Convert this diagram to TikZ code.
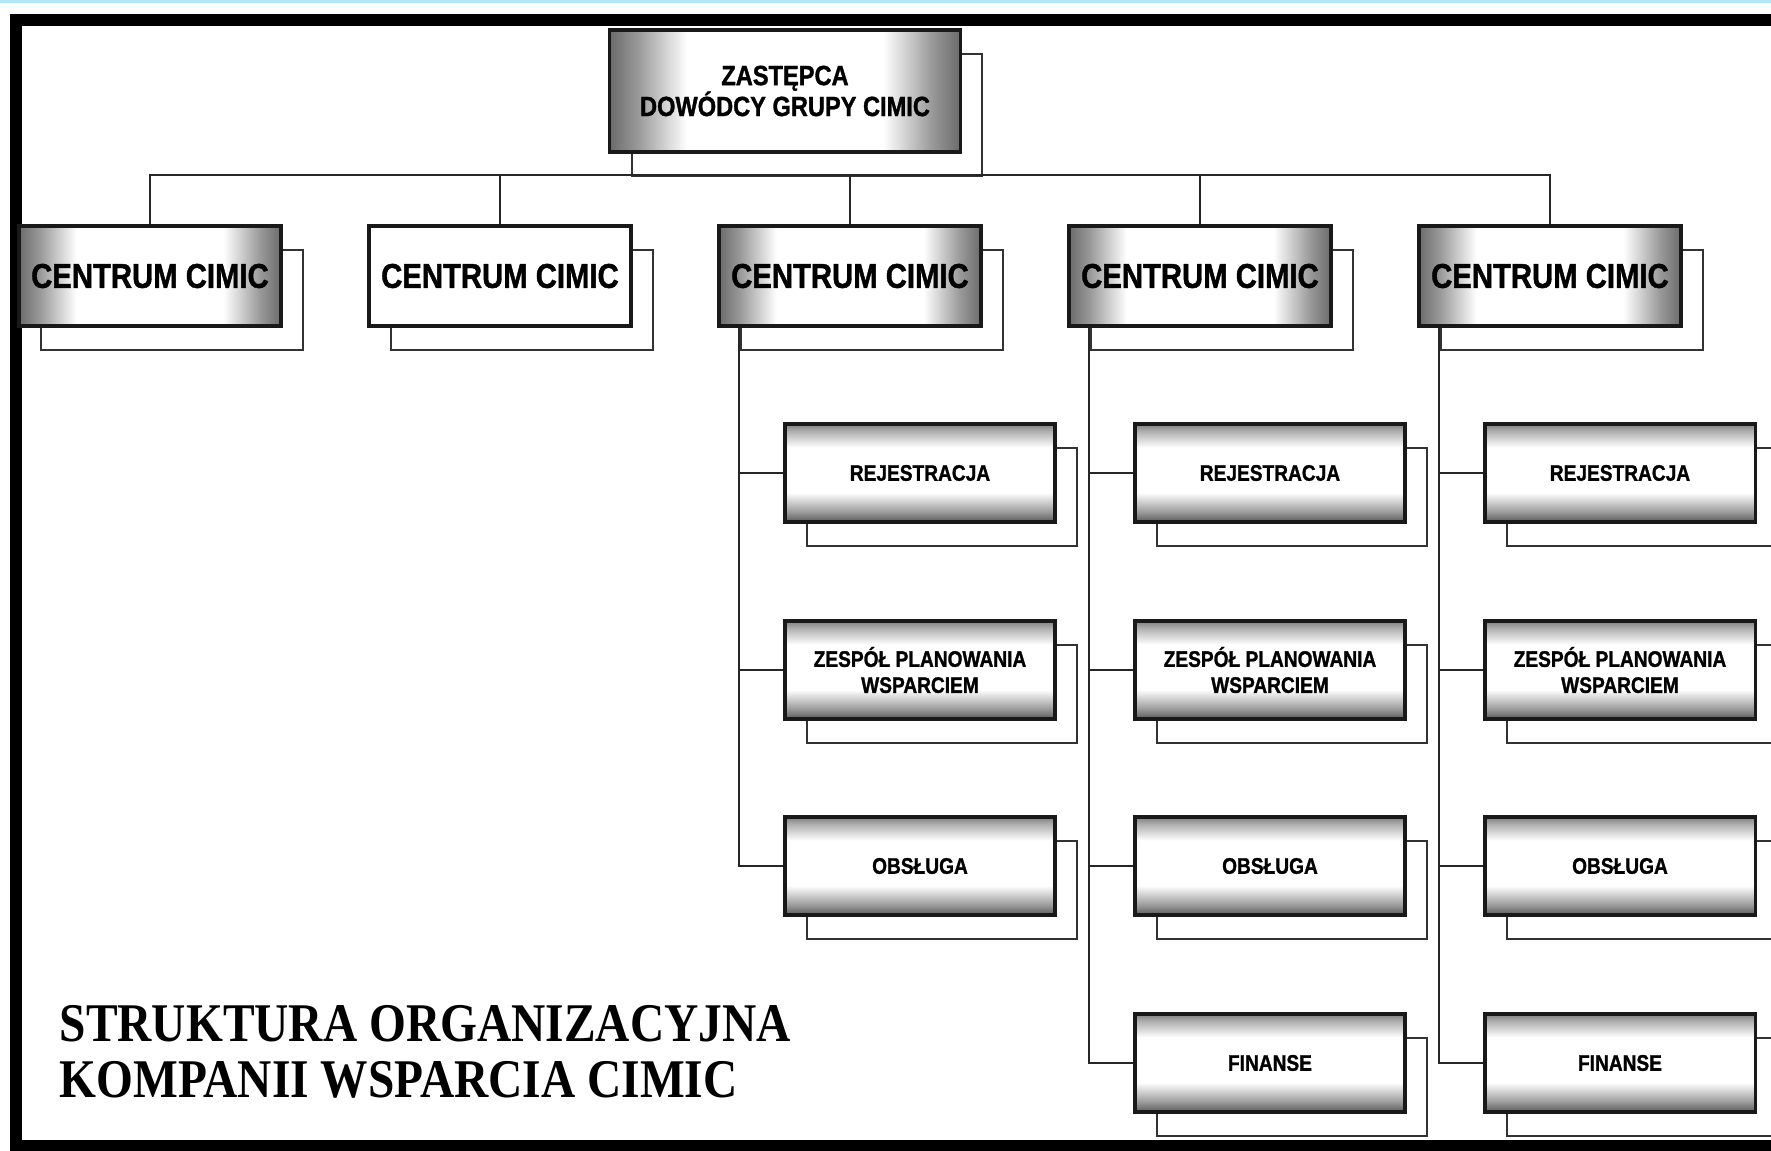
\documentclass[tikz,border=0pt]{standalone}
\usepackage{fontspec}
\newfontfamily\boxfont[FakeStretch=0.85, FakeBold=1.2]{Liberation Sans}
\newfontfamily\titlefont[FakeStretch=0.87]{Liberation Serif}
\usetikzlibrary{positioning,calc,shadows}

\pgfdeclarehorizontalshading{sidefade}{100bp}{color(0bp)=(black!58); color(25bp)=(black!58); color(29bp)=(black!40); color(36bp)=(white); color(64bp)=(white); color(71bp)=(black!40); color(75bp)=(black!58); color(100bp)=(black!58)}
\pgfdeclareverticalshading{edgefade}{100bp}{color(0bp)=(black!65); color(25bp)=(black!65); color(30bp)=(black!40); color(40bp)=(white); color(63bp)=(white); color(71bp)=(black!30); color(75bp)=(black!50); color(100bp)=(black!50)}

\tikzset{
  unit/.style={draw=black!90, line width=0.9pt, inner sep=0pt, align=center, fill=white,
    copy shadow={shadow xshift=0.22cm, shadow yshift=-0.24cm, fill=white, draw=black!80, line width=0.5pt}},
  sidegrad/.style={shade, shading=sidefade},
  head/.style={unit, sidegrad, minimum width=3.5cm, minimum height=1.22cm,
    font=\boxfont\bfseries\fontsize{7.9}{8.8}\selectfont},
  centrum/.style={unit, minimum width=2.62cm, minimum height=1cm,
    font=\boxfont\bfseries\fontsize{9.8}{11}\selectfont},
  section/.style={unit, shade, shading=edgefade, minimum width=2.7cm, minimum height=0.98cm,
    font=\boxfont\bfseries\fontsize{6.4}{7.4}\selectfont},
  link/.style={draw=black!85, line width=0.6pt},
  caption/.style={inner sep=0pt, align=left, font=\titlefont\bfseries\fontsize{15.5}{15.9}\selectfont}
}

\begin{document}
\begin{tikzpicture}[x=0.01cm, y=-0.01cm]
\clip (0,0) rectangle (1771,1151);

%Frame
\fill[cyan!30] (0,0) rectangle (1771,3);
\draw[line width=3.3pt] (1790,20) -- (16,20) -- (16,1146) -- (1790,1146);

%Top box
\node[head] (head) at (785,91) {ZASTĘPCA\\DOWÓDCY GRUPY CIMIC};

%Centres
\node[centrum, sidegrad] (c1) at (150,276) {CENTRUM CIMIC};
\node[centrum] (c2) at (500,276) {CENTRUM CIMIC};
\foreach \i in {3,4,5}
  \node[centrum, sidegrad] (c\i) at ({150+350*(\i-1)},276) {CENTRUM CIMIC};

%Sections under the centres
\foreach \k/\x in {3/920,4/1270,5/1620}
{
  \node[section] (r\k) at (\x,473) {REJESTRACJA};
  \node[section] (z\k) at (\x,670) {ZESPÓŁ PLANOWANIA\\WSPARCIEM};
  \node[section] (o\k) at (\x,866) {OBSŁUGA};
}
\foreach \k/\x in {4/1270,5/1620}
  \node[section] (f\k) at (\x,1063) {FINANSE};

%Bus and drops
\coordinate (bus) at (0,175);
\draw[link] (c1.north) -- (c1.north |- bus) -- (c5.north |- bus) -- (c5.north);
\foreach \i in {2,3,4}
  \draw[link] (c\i.north) -- (c\i.north |- bus);

%Trunks
\foreach \k in {3,4,5}
{
  \coordinate (t\k) at ($(c\k.south west)+(22,0)$);
  \draw[link] (t\k) |- (r\k.west);
  \draw[link] (t\k) |- (z\k.west);
  \draw[link] (t\k) |- (o\k.west);
}
\foreach \k in {4,5}
  \draw[link] (t\k) |- (f\k.west);

%Caption
\node[caption, anchor=north west] (title) at (59,1005) {STRUKTURA ORGANIZACYJNA\\KOMPANII WSPARCIA CIMIC};
\end{tikzpicture}
\end{document}
